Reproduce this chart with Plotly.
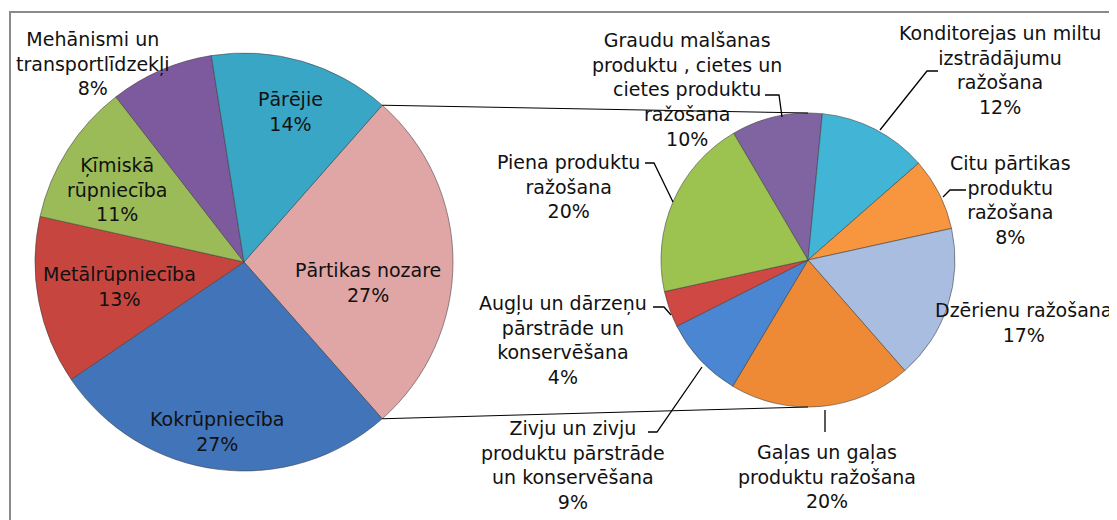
import plotly.graph_objects as go
import math

# ---------------- data ----------------
main_labels = ["Pārtikas nozare", "Kokrūpniecība", "Metālrūpniecība",
               "Ķīmiskā rūpniecība", "Mehānismi un transportlīdzekļi", "Pārējie"]
main_values = [27, 27, 13, 11, 8, 14]

sub_labels = ["Graudu malšanas produktu , cietes un cietes produktu ražošana",
              "Konditorejas un miltu izstrādājumu ražošana",
              "Citu pārtikas produktu ražošana",
              "Dzērienu ražošana",
              "Gaļas un gaļas produktu ražošana",
              "Zivju un zivju produktu pārstrāde un konservēšana",
              "Augļu un dārzeņu pārstrāde un konservēšana",
              "Piena produktu ražošana"]
sub_values = [10, 12, 8, 17, 20, 9, 4, 20]

# ---------------- styling / layout ----------------
OFF = 8                      # default page body margin
W, H = 1117 - OFF, 520 - OFF  # figure size
FONT = "DejaVu Sans"
FS = 19

main_colors = ["#DFA6A5", "#4174B9", "#C6453F", "#9BBB59", "#7D5A9E", "#3AA6C6"]
sub_colors = ["#8064A2", "#42B4D6", "#F7963F", "#A9BDE0", "#EE8A35", "#4A86D1", "#D04843", "#9CC250"]

# pie geometry in page pixels (center x, center y, radius)
L_CX, L_CY, L_R = 244, 262, 209
R_CX, R_CY, R_R = 808, 260, 147


def px(x):
    return (x - OFF) / W


def py(y):
    return 1 - (y - OFF) / H


def dom(cx, cy, r):
    return dict(x=[px(cx - r), px(cx + r)], y=[py(cy + r), py(cy - r)])


# first slice (Pārtikas nozare) is centered on the right side (3 o'clock)
main_total = sum(main_values)
split_span = main_values[0] / main_total * 360
main_rotation = 90 - split_span / 2

sub_total = sum(sub_values)
sub_rotation = -30.4

fig = go.Figure()
fig.add_trace(go.Pie(
    labels=main_labels, values=main_values, sort=False, direction="clockwise",
    rotation=main_rotation, domain=dom(L_CX, L_CY, L_R), textinfo="none",
    hoverinfo="label+percent",
    marker=dict(colors=main_colors, line=dict(color="rgba(60,60,60,0.55)", width=1)),
    showlegend=False,
))
fig.add_trace(go.Pie(
    labels=sub_labels, values=sub_values, sort=False, direction="clockwise",
    rotation=sub_rotation, domain=dom(R_CX, R_CY, R_R), textinfo="none",
    hoverinfo="label+percent",
    marker=dict(colors=sub_colors, line=dict(color="rgba(60,60,60,0.55)", width=1)),
    showlegend=False,
))

# ---------------- labels ----------------
def pct(v, tot):
    return f"{round(v / tot * 100)}%"

main_text = ["Pārtikas nozare", "Kokrūpniecība", "Metālrūpniecība",
             "Ķīmiskā<br>rūpniecība", "Mehānismi un<br>transportlīdzekļi", "Pārējie"]
main_pos = [(368, 282), (217, 431), (119, 286), (117, 189), (93, 63), (290, 111)]

sub_text = ["Graudu malšanas<br>produktu , cietes un<br>cietes produktu<br>ražošana",
            "Konditorejas un miltu<br>izstrādājumu<br>ražošana",
            "Citu pārtikas<br>produktu<br>ražošana",
            "Dzērienu ražošana",
            "Gaļas un gaļas<br>produktu ražošana",
            "Zivju un zivju<br>produktu pārstrāde<br>un konservēšana",
            "Augļu un dārzeņu<br>pārstrāde un<br>konservēšana",
            "Piena produktu<br>ražošana"]
sub_pos = [(687, 89), (1000, 70), (1010, 200), (1023, 322), (827, 476),
           (573, 465), (563, 340), (568, 186)]

annotations = []
for t, v, (x, y) in zip(main_text, main_values, main_pos):
    annotations.append(dict(text=f"{t}<br>{pct(v, main_total)}", x=px(x), y=py(y),
                            xref="paper", yref="paper", showarrow=False,
                            xanchor="center", yanchor="middle", align="center",
                            font=dict(family=FONT, size=FS, color="#111111")))
for t, v, (x, y) in zip(sub_text, sub_values, sub_pos):
    annotations.append(dict(text=f"{t}<br>{pct(v, sub_total)}", x=px(x), y=py(y),
                            xref="paper", yref="paper", showarrow=False,
                            xanchor="center", yanchor="middle", align="center",
                            font=dict(family=FONT, size=FS, color="#111111")))

# ---------------- shapes: frame, connectors, leader lines ----------------
shapes = []
shapes.append(dict(type="rect", xref="paper", yref="paper",
                   x0=px(10), x1=px(1115), y0=py(545), y1=py(12),
                   line=dict(color="#8a8a8a", width=2), fillcolor="rgba(0,0,0,0)", layer="below"))

a1 = math.radians(main_rotation)
a2 = math.radians(main_rotation + split_span)
p_top = (L_CX + L_R * math.sin(a1), L_CY - L_R * math.cos(a1))
p_bot = (L_CX + L_R * math.sin(a2), L_CY - L_R * math.cos(a2))
for (x0, y0), (x1, y1) in [(p_top, (R_CX, R_CY - R_R)), (p_bot, (R_CX, R_CY + R_R))]:
    shapes.append(dict(type="line", xref="paper", yref="paper",
                       x0=px(x0), y0=py(y0), x1=px(x1), y1=py(y1),
                       line=dict(color="#000000", width=1)))

leaders = [
    [(765, 95), (779, 95), (782, 117)],
    [(645, 163), (654, 163), (673, 202)],
    [(938, 71), (927, 71), (880, 130)],
    [(943, 197), (950, 190), (966, 190)],
    [(825, 410), (825, 432)],
    [(648, 432), (657, 432), (702, 367)],
    [(653, 307), (664, 307), (671, 315)],
]
for pts in leaders:
    path = "M " + " L ".join(f"{px(x):.5f},{py(y):.5f}" for x, y in pts)
    shapes.append(dict(type="path", xref="paper", yref="paper", path=path,
                       line=dict(color="#000000", width=1.3)))

fig.update_layout(
    width=W, height=H, margin=dict(l=0, r=0, t=0, b=0),
    paper_bgcolor="white", plot_bgcolor="white",
    annotations=annotations, shapes=shapes,
)

fig.write_html("out.html")
